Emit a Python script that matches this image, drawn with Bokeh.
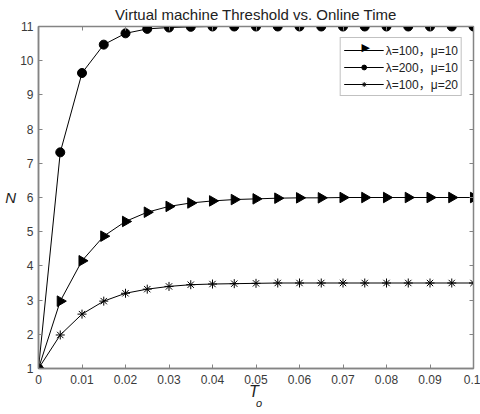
import math
from bokeh.plotting import figure
from bokeh.models import (FixedTicker, CustomJSTickFormatter, LinearAxis, Label, Range1d,
                          Legend, LegendItem)
from bokeh.embed import file_html
from bokeh.resources import INLINE

t = [i * 0.005 for i in range(21)]
n_l100_m10 = [1, 2.97, 4.15, 4.87, 5.30, 5.57, 5.74, 5.84, 5.90, 5.94, 5.96, 5.98, 5.99, 5.99, 6.0, 6.0, 6.0, 6.0, 6.0, 6.0, 6.0]
n_l200_m10 = [1, 7.32, 9.64, 10.47, 10.80, 10.93, 10.97, 10.99, 11.0, 11.0, 11.0, 11.0, 11.0, 11.0, 11.0, 11.0, 11.0, 11.0, 11.0, 11.0, 11.0]
n_l100_m20 = [1, 1.98, 2.59, 2.97, 3.20, 3.32, 3.40, 3.45, 3.47, 3.48, 3.49, 3.50, 3.50, 3.50, 3.50, 3.50, 3.50, 3.50, 3.50, 3.50, 3.50]
labels = ["λ=100，μ=10", "λ=200，μ=10", "λ=100，μ=20"]
x_ticks = [i / 100 for i in range(11)]
y_ticks = list(range(1, 12))
title = "Virtual machine Threshold vs. Online Time"

FONT = "Liberation Sans"
AX = "#848484"
LBL = "#3a3a3a"
TXT = "#222222"

p = figure(width=480, height=414, output_backend="svg", toolbar_location=None,
           x_range=Range1d(0, 0.1), y_range=Range1d(1, 11),
           min_border_left=38, min_border_right=7, min_border_top=25, min_border_bottom=46)
p.title.text = title
p.title.align = "center"
p.title.text_font = FONT
p.title.text_font_size = "15px"
p.title.text_font_style = "normal"
p.title.text_color = TXT
p.title.standoff = 7
p.xgrid.visible = False
p.ygrid.visible = False
p.outline_line_color = AX
p.outline_line_width = 1.5

fmt = CustomJSTickFormatter(code="return tick == 0 ? '0' : (Math.round(tick*100)/100).toString();")
blank = CustomJSTickFormatter(code="return '';")
for ax in p.xaxis:
    ax.ticker = FixedTicker(ticks=x_ticks)
    ax.formatter = fmt
    ax.major_label_standoff = 6
for ax in p.yaxis:
    ax.ticker = FixedTicker(ticks=y_ticks)
    ax.major_label_standoff = 5
for ax in list(p.xaxis) + list(p.yaxis):
    ax.axis_line_color = AX
    ax.axis_line_width = 1.5
    ax.major_tick_line_color = AX
    ax.major_tick_in = 4
    ax.major_tick_out = 0
    ax.minor_tick_line_color = None
    ax.major_label_text_font = FONT
    ax.major_label_text_font_size = "12px"
    ax.major_label_text_color = LBL
    ax.axis_label_text_font = FONT
    ax.axis_label_text_font_style = "italic"
    ax.axis_label_text_color = TXT
p.yaxis.major_label_orientation = "horizontal"

p.yaxis.axis_label = "N"
p.yaxis.axis_label_text_font_size = "15px"
p.yaxis.axis_label_standoff = 1
for ax in p.yaxis:
    if "axis_label_orientation" in ax.properties():
        ax.axis_label_orientation = "horizontal"

p.xaxis.axis_label = "T\u00a0"
p.xaxis.axis_label_text_font_size = "16px"
p.xaxis.axis_label_standoff = -4

# subscript "o" of T_o, carried by a bare axis below the main one
sub = LinearAxis(ticker=FixedTicker(ticks=[]), formatter=blank, axis_line_color=None,
                 major_tick_line_color=None, minor_tick_line_color=None,
                 major_label_standoff=0, axis_label="\u00a0\u00a0o",
                 axis_label_text_font=FONT, axis_label_text_font_size="11px",
                 axis_label_text_font_style="italic", axis_label_text_color=TXT,
                 axis_label_standoff=-6)
p.add_layout(sub, "below")

# box ticks on top and right
top = LinearAxis(ticker=FixedTicker(ticks=x_ticks), formatter=blank,
                 major_tick_in=4, major_tick_out=0, minor_tick_line_color=None,
                 axis_line_color=AX, major_tick_line_color=AX, major_label_standoff=0)
right = LinearAxis(ticker=FixedTicker(ticks=y_ticks), formatter=blank,
                   major_tick_in=4, major_tick_out=0, minor_tick_line_color=None,
                   axis_line_color=AX, major_tick_line_color=AX, major_label_standoff=0)
p.add_layout(top, "above")
p.add_layout(right, "right")

l1 = p.line(t, n_l100_m10, color="black", line_width=1)
s1 = p.scatter(t, n_l100_m10, marker="triangle", angle=-math.pi / 2, size=10.5, color="black")
l2 = p.line(t, n_l200_m10, color="black", line_width=1)
s2 = p.scatter(t, n_l200_m10, marker="circle", size=9, color="black")
l3 = p.line(t, n_l100_m20, color="black", line_width=1)
s3 = p.scatter(t, n_l100_m20, marker="asterisk", size=9, color="black", line_width=1)

lg = Legend(items=[LegendItem(label=labels[0], renderers=[l1]),
                   LegendItem(label=labels[1], renderers=[l2, s2]),
                   LegendItem(label=labels[2], renderers=[l3, s3])])
lg.location = "top_right"
lg.margin = 11
lg.border_line_color = AX
lg.border_line_width = 1.5
lg.background_fill_alpha = 0
lg.label_text_font = "Liberation Sans, Noto Sans CJK SC"
lg.label_text_font_size = "12px"
lg.label_text_color = TXT
lg.glyph_width = 40
lg.glyph_height = 12
lg.label_height = 12
lg.spacing = -3
lg.padding = 3
lg.label_standoff = 2
p.add_layout(lg)

# right-pointing triangle for the first legend entry (legend ignores marker angle)
p.add_layout(Label(x=0.0752, y=10.38, text="▶", text_font="DejaVu Sans", text_font_size="11px",
                   text_color="black", text_align="center", text_baseline="middle"))

open("out.html", "w").write(file_html(p, INLINE))
